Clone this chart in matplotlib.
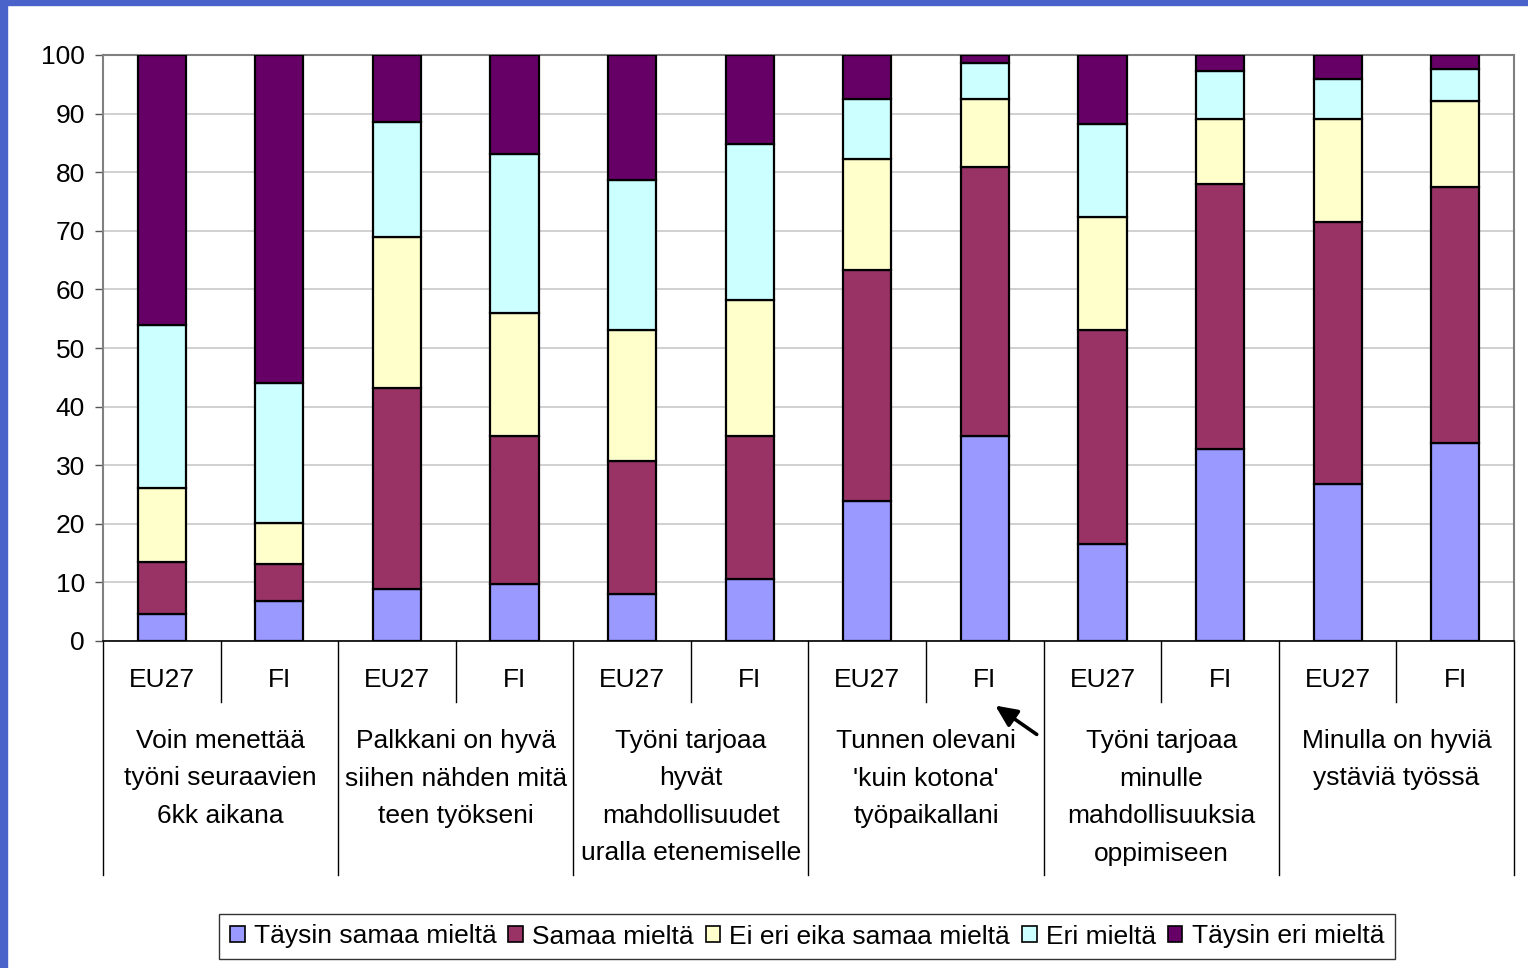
import matplotlib
matplotlib.use("Agg")
import matplotlib.pyplot as plt
import matplotlib.transforms as mtransforms
from matplotlib.patches import Rectangle, FancyArrowPatch
import numpy as np

plt.rcParams['font.family'] = ['Liberation Sans', 'DejaVu Sans']

bar_labels = ["EU27", "FI"] * 6
group_labels = [
    "Voin menettää\ntyöni seuraavien\n6kk aikana",
    "Palkkani on hyvä\nsiihen nähden mitä\nteen työkseni",
    "Työni tarjoaa\nhyvät\nmahdollisuudet\nuralla etenemiselle",
    "Tunnen olevani\n'kuin kotona'\ntyöpaikallani",
    "Työni tarjoaa\nminulle\nmahdollisuuksia\noppimiseen",
    "Minulla on hyviä\nystäviä työssä",
]
series_names = ["Täysin samaa mieltä", "Samaa mieltä", "Ei eri eika samaa mieltä",
                "Eri mieltä", "Täysin eri mieltä"]
taysin_samaa = [4.6, 6.8, 8.9, 9.7, 8.0, 10.6, 23.9, 35.0, 16.6, 32.8, 26.8, 33.8]
samaa = [8.9, 6.3, 34.3, 25.3, 22.7, 24.4, 39.4, 45.9, 36.5, 45.2, 44.7, 43.7]
ei_eri = [12.6, 7.0, 25.7, 21.0, 22.4, 23.2, 19.0, 11.6, 19.3, 11.1, 17.6, 14.7]
eri = [27.8, 23.9, 19.7, 27.1, 25.6, 26.6, 10.2, 6.1, 15.8, 8.2, 6.8, 5.4]
taysin_eri = [46.1, 56.0, 11.4, 16.9, 21.3, 15.2, 7.5, 1.4, 11.8, 2.7, 4.1, 2.4]
series = [taysin_samaa, samaa, ei_eri, eri, taysin_eri]
colors = ["#9999FF", "#993366", "#FFFFCC", "#CCFFFF", "#660066"]

W, H = 1528, 968
fig = plt.figure(figsize=(W / 100, H / 100), dpi=100)
fig.patch.set_facecolor("white")

# slide border
fig.add_artist(Rectangle((0, 0), 7 / W, 1, transform=fig.transFigure, color="#4A63CB", zorder=0))
fig.add_artist(Rectangle((0, 1 - 5 / H), 1, 5 / H, transform=fig.transFigure, color="#4A63CB", zorder=0))

left, right, top, bottom = 103, 1514, 55, 641
ax = fig.add_axes([left / W, 1 - bottom / H, (right - left) / W, (bottom - top) / H])

x = np.arange(len(bar_labels))
base = np.zeros(len(bar_labels))
for vals, col, name in zip(series, colors, series_names):
    ax.bar(x, vals, bottom=base, width=0.41, color=col, edgecolor="black",
           linewidth=1.6, label=name, zorder=3)
    base += np.array(vals)

FS = 19
ax.set_xlim(-0.5, len(bar_labels) - 0.5)
ax.set_ylim(0, 100)
ax.set_yticks(np.arange(0, 101, 10))
ax.tick_params(axis="y", labelsize=FS, length=6, width=1, color="#555555", pad=7)
ax.tick_params(axis="x", length=0, labelbottom=False)
ax.yaxis.grid(True, color="#C8C8C8", linewidth=1.2, zorder=0)
ax.set_axisbelow(True)
for s in ["left", "right", "top"]:
    ax.spines[s].set_color("#808080")
    ax.spines[s].set_linewidth(1.5)
ax.spines["bottom"].set_color("#000000")
ax.spines["bottom"].set_linewidth(1.2)

ph = bottom - top
trans = mtransforms.blended_transform_factory(ax.transData, ax.transAxes)

# separators
for k in range(7):
    xb = -0.5 + 2 * k
    ax.plot([xb, xb], [0, -(875 - bottom) / ph], transform=trans, color="black",
            linewidth=1.0, clip_on=False)
for k in range(6):
    xb = 0.5 + 2 * k
    ax.plot([xb, xb], [0, -(702 - bottom) / ph], transform=trans, color="black",
            linewidth=1.0, clip_on=False)

# bar labels
for xi, lab in zip(x, bar_labels):
    ax.text(xi, -(680 - bottom) / ph, lab, transform=trans, ha="center", va="center",
            fontsize=FS)

# group labels
for g, lab in enumerate(group_labels):
    for i, line in enumerate(lab.split("\n")):
        ax.text(2 * g + 0.5, -(741 + 37.5 * i - bottom) / ph, line, transform=trans,
                ha="center", va="center", fontsize=FS)

# arrow
fig.add_artist(FancyArrowPatch(
    (1039 / W, 1 - 736 / H), (993 / W, 1 - 704 / H), transform=fig.transFigure,
    arrowstyle="-|>,head_length=13,head_width=6", color="black", linewidth=2.6,
    mutation_scale=1))

leg = fig.legend(loc="center", bbox_to_anchor=(807 / W, 1 - 936.5 / H), ncol=5,
                 fontsize=FS, frameon=True, fancybox=False, edgecolor="black",
                 handlelength=0.55, handleheight=0.55, handletextpad=0.35,
                 columnspacing=0.45, borderpad=0.4, borderaxespad=0)
leg.get_frame().set_linewidth(1.0)
for h in leg.legend_handles:
    h.set_linewidth(1.2)

fig.savefig("out.png", dpi=100)
